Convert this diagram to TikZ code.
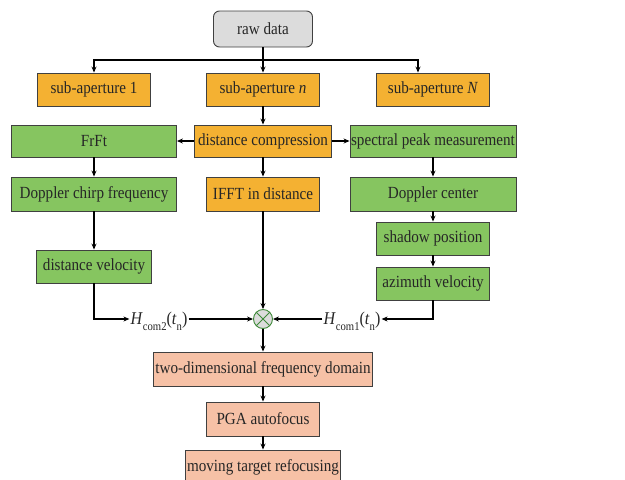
\documentclass[tikz,border=0pt]{standalone}
\usepackage{fontspec}
\setmainfont{Liberation Serif}[FakeStretch=0.89]
\usetikzlibrary{arrows.meta}
\definecolor{cgray}{HTML}{DCDCDC}
\definecolor{corange}{HTML}{F4B132}
\definecolor{cgreen}{HTML}{86C560}
\definecolor{csalmon}{HTML}{F6C1A6}
\definecolor{cedge}{HTML}{404040}
\definecolor{ccirc}{HTML}{3F8A3A}
\tikzset{
  box/.style={draw=cedge, line width=0.9pt, inner sep=0pt, minimum height=33pt, font=\fontsize{17}{19}\selectfont, text=black!85},
  obox/.style={box, fill=corange},
  gbox/.style={box, fill=cgreen},
  sbox/.style={box, fill=csalmon},
  arr/.style={line width=1.8pt, -{Stealth[length=6pt,width=5pt]}},
  lbl/.style={inner sep=1pt, font=\fontsize{18}{20}\selectfont, text=black!85}
}
\begin{document}
\begin{tikzpicture}[x=1pt,y=-1pt]
\useasboundingbox (0,0) rectangle (625,480);
\node[box, fill=cgray, rounded corners=6pt, minimum width=99pt, minimum height=36pt] (raw) at (263,29) {raw data};
\node[obox, minimum width=113pt] (sa1) at (94,89.5) {sub-aperture 1};
\node[obox, minimum width=113pt] (san) at (263,89.5) {sub-aperture \textit{n}};
\node[obox, minimum width=113pt] (saN) at (433,89.5) {sub-aperture \textit{N}};
\node[obox, minimum width=137pt, minimum height=32pt] (dc) at (263,141) {distance compression};
\node[gbox, minimum width=165pt, minimum height=32pt] (frft) at (94,141) {FrFt};
\node[gbox, minimum width=166pt, minimum height=32pt] (spm) at (433,141) {spectral peak measurement};
\node[gbox, minimum width=165pt, minimum height=34pt] (dcf) at (94,194) {Doppler chirp frequency};
\node[obox, minimum width=113pt, minimum height=34pt] (ifft) at (263,194) {IFFT in distance};
\node[gbox, minimum width=166pt, minimum height=34pt] (dcen) at (433,194) {Doppler center};
\node[gbox, minimum width=113pt] (shadow) at (433,238.5) {shadow position};
\node[gbox, minimum width=115pt] (dv) at (94,266.5) {distance velocity};
\node[gbox, minimum width=113pt] (az) at (433,283.5) {azimuth velocity};
\node[circle, draw=ccirc, fill=cgray, line width=0.9pt, minimum size=19pt, inner sep=0pt] (circ) at (263,319) {};
\draw[ccirc, line width=0.9pt] (circ.north west) -- (circ.south east) (circ.north east) -- (circ.south west);
\node[lbl] (h2) at (159,321) {\textit{H}\raisebox{-0.7ex}{\fontsize{12}{13}\selectfont com2}(\textit{t}\raisebox{-0.7ex}{\fontsize{12}{13}\selectfont n})};
\node[lbl] (h1) at (352,321) {\textit{H}\raisebox{-0.7ex}{\fontsize{12}{13}\selectfont com1}(\textit{t}\raisebox{-0.7ex}{\fontsize{12}{13}\selectfont n})};
\node[sbox, minimum width=219pt, minimum height=34pt] (tdf) at (263,369) {two-dimensional frequency domain};
\node[sbox, minimum width=113pt, minimum height=34pt] (pga) at (263,419) {PGA autofocus};
\node[sbox, minimum width=155pt, minimum height=34pt] (mtr) at (263,467) {moving target refocusing};
\coordinate (j) at (263,60);
\draw[arr] (raw.south) -- (san.north);
\draw[arr] (j) -| (sa1.north);
\draw[arr] (j) -| ([xshift=-15pt]saN.north);
\draw[arr] (san.south) -- (dc.north);
\draw[arr] (dc.west) -- (frft.east);
\draw[arr] (dc.east) -- (spm.west);
\draw[arr] (frft.south) -- (dcf.north);
\draw[arr] (dcf.south) -- (dv.north);
\draw[arr] (dc.south) -- (ifft.north);
\draw[arr] (spm.south) -- (dcen.north);
\draw[arr] (dcen.south) -- (shadow.north);
\draw[arr] (shadow.south) -- (az.north);
\draw[arr] (ifft.south) -- (circ.north);
\draw[arr] (dv.south) |- (h2.west |- circ.west);
\draw[arr] (az.south) |- (h1.east |- circ.east);
\draw[arr] (h2.east |- circ.west) -- (circ.west);
\draw[arr] (h1.west |- circ.east) -- (circ.east);
\draw[arr] (circ.south) -- (tdf.north);
\draw[arr] (tdf.south) -- (pga.north);
\draw[arr] (pga.south) -- (mtr.north);
\end{tikzpicture}
\end{document}
